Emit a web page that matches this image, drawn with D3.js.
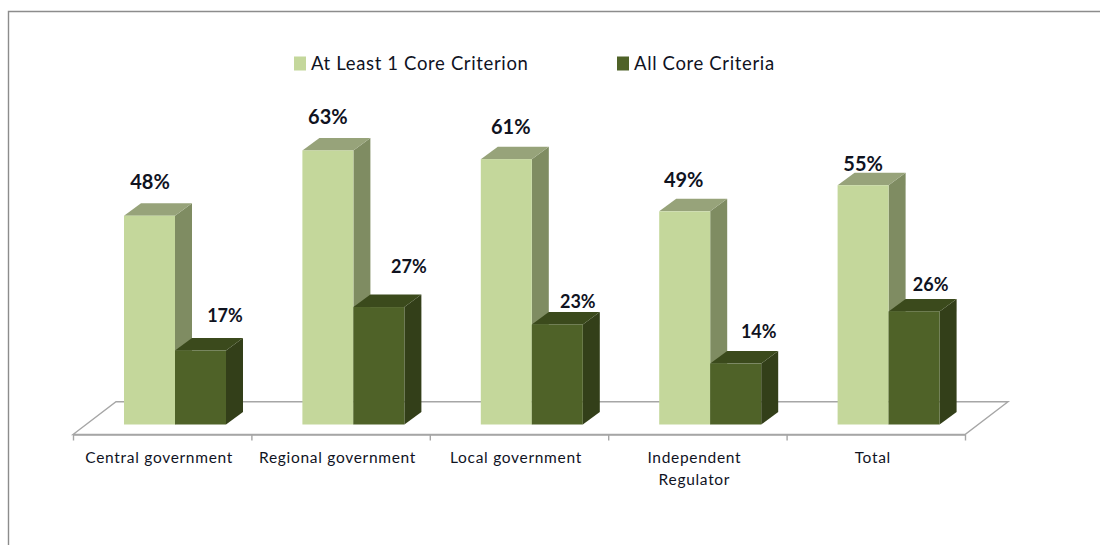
<!DOCTYPE html>
<html>
<head>
<meta charset="utf-8">
<script src="https://cdn.jsdelivr.net/npm/d3@7"></script>
<style>
html,body{margin:0;padding:0;background:#fff;}
svg{display:block;}
text{font-family:Lato,"Open Sans",sans-serif;fill:#10131f;}
</style>
</head>
<body>
<div id="chart"></div>
<script>
const categories = ["Central government", "Regional government", "Local government", "Independent Regulator", "Total"];
const seriesNames = ["At Least 1 Core Criterion", "All Core Criteria"];
const atLeastOne = [48, 63, 61, 49, 55];
const allCore = [17, 27, 23, 14, 26];

const width = 1100, height = 545;
const svg = d3.select("#chart").append("svg").attr("width", width).attr("height", height);

// Oblique projection used for the 3D columns and the floor
const depthX = 17, depthY = -12.5;
const floorFrontY = 434.5, floorBackY = 401.8, floorSkew = 43;

const x = d3.scaleBand().domain(categories).range([73, 965]);
const tickScale = d3.scaleLinear().domain([0, categories.length]).range([73, 965]);
const y = d3.scaleLinear().domain([0, 100]).range([424.5, -10.5]);
const columnWidth = 51, columnInset = 51;

// Hand-placed value label offsets from the column's top centre
const labelOffsets = [
  [[0.5, -34], [0, -33], [4.5, -32], [-1, -31], [0, -21]],
  [[24.5, -35], [30, -40], [20.5, -23], [23, -32], [16.5, -27]]
];

const palettes = [
  {front: "#c4d79b", side: "#7f8c62", top: "#97a37a"},
  {front: "#4f6228", side: "#333f19", top: "#3b4a1c"}
];

// Outer frame: only the top and left rules are visible
svg.append("path")
  .attr("d", `M8.5,${height}V11.5H${width}`)
  .attr("fill", "none").attr("stroke", "#8c8c8c").attr("stroke-width", 1.4);

// Floor of the 3D plot
svg.append("path")
  .attr("d", `M73,${floorFrontY}L${73 + floorSkew},${floorBackY}H${965 + floorSkew}L965,${floorFrontY}Z`)
  .attr("fill", "#fff").attr("stroke", "#a6a6a6").attr("stroke-width", 1.4);

// Category ticks below the floor edge
const axis = d3.axisBottom(tickScale)
  .tickValues(d3.range(categories.length + 1))
  .tickFormat("").tickSize(6).tickSizeOuter(0);
const axisG = svg.append("g").attr("transform", `translate(0,${floorFrontY})`).call(axis);
axisG.select(".domain").attr("stroke", "#a6a6a6").attr("stroke-width", 1.4);
axisG.selectAll(".tick line").attr("stroke", "#a6a6a6").attr("stroke-width", 1.4);

// Columns, drawn left to right so nearer faces overlap correctly
const series = [atLeastOne, allCore];
categories.forEach((cat, i) => {
  series.forEach((values, s) => {
    const v = values[i], p = palettes[s];
    const x0 = x(cat) + columnInset + s * columnWidth, x1 = x0 + columnWidth;
    const yTop = y(v), yBase = y(0);
    const g = svg.append("g");
    g.append("path")
      .attr("d", `M${x1},${yTop}l${depthX},${depthY}V${yBase + depthY}L${x1},${yBase}Z`)
      .attr("fill", p.side);
    g.append("path")
      .attr("d", `M${x0},${yTop}l${depthX},${depthY}H${x1 + depthX}L${x1},${yTop}Z`)
      .attr("fill", p.top);
    g.append("rect")
      .attr("x", x0).attr("y", yTop)
      .attr("width", columnWidth).attr("height", yBase - yTop)
      .attr("fill", p.front);
  });
});

// Value labels sit above the columns
series.forEach((values, s) => {
  values.forEach((v, i) => {
    const [dx, dy] = labelOffsets[s][i];
    const cx = x(categories[i]) + columnInset + s * columnWidth + columnWidth / 2;
    svg.append("text")
      .attr("x", cx + dx).attr("y", y(v) + dy)
      .attr("dy", "0.35em")
      .attr("text-anchor", "middle")
      .attr("font-size", s === 0 ? 20 : 18)
      .attr("font-weight", 700)
      .text(v + "%");
  });
});

// Category labels, wrapped where the name needs two lines
const wrapped = {"Independent Regulator": ["Independent", "Regulator"]};
categories.forEach(cat => {
  const lines = wrapped[cat] || [cat];
  lines.forEach((line, k) => {
    svg.append("text")
      .attr("x", x(cat) + x.bandwidth() / 2 - 3)
      .attr("y", 457.5 + k * 22)
      .attr("dy", "0.35em")
      .attr("text-anchor", "middle")
      .attr("font-size", 15.5)
      .attr("letter-spacing", 0.7)
      .text(line);
  });
});

// Legend
const legendX = [294, 617];
seriesNames.forEach((name, s) => {
  svg.append("rect")
    .attr("x", legendX[s]).attr("y", 56.5)
    .attr("width", 12).attr("height", 14)
    .attr("fill", palettes[s].front);
  svg.append("text")
    .attr("x", legendX[s] + 17).attr("y", 63.5)
    .attr("dy", "0.35em")
    .attr("font-size", 18.5)
    .attr("letter-spacing", 0.65)
    .text(name);
});
</script>
</body>
</html>
